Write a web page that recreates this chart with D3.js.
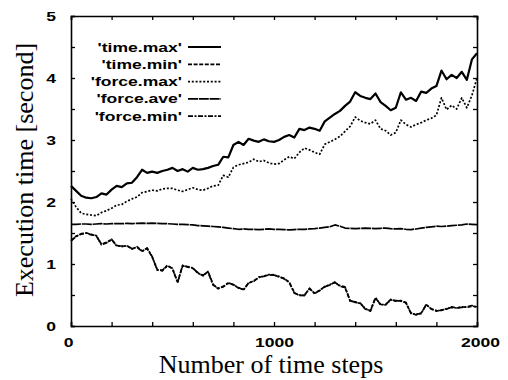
<!DOCTYPE html>
<html>
<head>
<meta charset="utf-8">
<script src="https://cdn.jsdelivr.net/npm/d3@7"></script>
<style>
  body { margin: 0; background: #fff; }
  .tl { font-family: "Liberation Sans", Arial, sans-serif; font-weight: bold; font-size: 13px; }
  .title { font-family: "Liberation Serif", "Times New Roman", serif; font-size: 26px; }
</style>
</head>
<body>
<div id="chart"></div>
<script>
// time steps, every 25
var steps = d3.range(0, 2001, 25);

var timeMax = [2.26,2.18,2.10,2.07,2.06,2.08,2.14,2.12,2.20,2.26,2.24,2.30,2.31,2.40,2.52,2.47,2.49,2.47,2.50,2.52,
  2.55,2.50,2.53,2.49,2.55,2.52,2.53,2.55,2.58,2.60,2.73,2.72,2.92,2.97,2.92,3.02,2.99,2.97,3.01,2.98,
  2.97,3.00,3.05,3.08,3.04,3.18,3.16,3.20,3.18,3.15,3.30,3.36,3.42,3.47,3.55,3.62,3.77,3.71,3.68,3.66,
  3.75,3.61,3.55,3.48,3.52,3.77,3.65,3.68,3.63,3.78,3.76,3.83,3.87,4.12,3.98,4.05,4.00,4.10,3.97,4.30,4.40];

var timeMin = [1.37,1.45,1.48,1.50,1.48,1.45,1.32,1.35,1.39,1.30,1.28,1.30,1.24,1.28,1.21,1.25,1.11,0.91,0.89,0.98,
  0.92,0.71,0.97,0.96,0.93,0.86,0.81,0.88,0.67,0.60,0.64,0.69,0.67,0.61,0.59,0.69,0.73,0.78,0.81,0.82,
  0.83,0.79,0.77,0.70,0.54,0.49,0.50,0.60,0.53,0.57,0.64,0.66,0.71,0.64,0.62,0.41,0.38,0.37,0.27,0.25,
  0.45,0.35,0.34,0.43,0.40,0.41,0.37,0.21,0.18,0.21,0.34,0.28,0.24,0.26,0.27,0.31,0.29,0.31,0.30,0.32,0.31];

var forceMax = [2.05,1.92,1.82,1.80,1.79,1.78,1.83,1.86,1.90,1.95,1.96,2.01,2.05,2.08,2.15,2.17,2.19,2.18,2.21,2.22,
  2.22,2.19,2.17,2.20,2.23,2.20,2.19,2.22,2.26,2.27,2.43,2.40,2.56,2.60,2.62,2.64,2.69,2.65,2.67,2.63,
  2.61,2.62,2.68,2.73,2.70,2.80,2.87,2.84,2.80,2.77,2.93,2.97,3.01,3.06,3.14,3.22,3.37,3.31,3.28,3.26,
  3.32,3.18,3.15,3.08,3.12,3.32,3.25,3.21,3.25,3.28,3.32,3.35,3.40,3.68,3.49,3.56,3.50,3.68,3.52,3.72,4.00];

var forceAve = [1.64,1.64,1.645,1.645,1.64,1.645,1.65,1.645,1.65,
  1.65,1.65,1.655,1.65,1.655,1.66,1.655,1.66,
  1.655,1.65,1.65,1.645,1.64,1.64,1.635,1.63,
  1.62,1.615,1.61,1.605,1.60,1.59,1.58,1.57,
  1.56,1.565,1.56,1.56,1.555,1.56,1.565,1.56,
  1.56,1.555,1.55,1.555,1.56,1.56,1.565,1.57,
  1.58,1.59,1.60,1.63,1.61,1.58,1.575,1.57,
  1.575,1.58,1.575,1.57,1.575,1.58,1.57,1.565,
  1.57,1.56,1.555,1.565,1.58,1.59,1.60,1.61,
  1.605,1.61,1.62,1.625,1.63,1.645,1.64,1.635];

var forceMin = [1.38,1.44,1.49,1.50,1.47,1.46,1.31,1.34,1.40,1.29,1.29,1.29,1.25,1.27,1.20,1.26,1.12,0.90,0.90,0.97,
  0.93,0.70,0.98,0.95,0.94,0.85,0.82,0.87,0.66,0.61,0.63,0.70,0.66,0.62,0.58,0.70,0.72,0.79,0.80,0.83,
  0.82,0.80,0.76,0.71,0.53,0.50,0.49,0.61,0.52,0.58,0.63,0.67,0.70,0.65,0.63,0.40,0.39,0.36,0.28,0.24,
  0.46,0.34,0.35,0.42,0.41,0.40,0.38,0.20,0.19,0.20,0.35,0.27,0.25,0.25,0.28,0.30,0.29,0.30,0.31,0.33,0.30];

var seriesNames = ["'time.max'", "'time.min'", "'force.max'", "'force.ave'", "'force.min'"];
var seriesData = [timeMax, timeMin, forceMax, forceAve, forceMin];
var dashes = [null, "4,1.6", "2,1.8", "10,0.8", "5,1.5,2,1.5"];
var widths = [2.2, 1.7, 1.7, 1.7, 1.7];

var yTicks = d3.range(0, 5.01, 0.5);
var xTicks = d3.range(0, 2001, 200);

// set the dimensions and margins of the graph
var margin = {top: 16, right: 31, bottom: 54, left: 71},
    width = 508 - margin.left - margin.right,
    height = 380 - margin.top - margin.bottom;

var svg = d3.select("#chart")
  .append("svg")
    .attr("width", 508)
    .attr("height", 380)
  .append("g")
    .attr("transform", "translate(" + margin.left + "," + margin.top + ")");

var x = d3.scaleLinear().domain([0, 2000]).range([0, width]);
var y = d3.scaleLinear().domain([0, 5]).range([height, 0]);

var sx = 1.35; // the scanned labels are wide

function widen(sel) {
  sel.selectAll("text")
    .attr("class", "tl")
    .attr("fill", "#000")
    .attr("x", function() { return +d3.select(this).attr("x") / sx; })
    .attr("transform", "scale(" + sx + ",1)");
}

// axes with inward ticks
var yAxis = svg.append("g")
  .call(d3.axisLeft(y).tickValues(yTicks).tickSize(-4).tickPadding(15)
    .tickFormat(function(d) { return Number.isInteger(d) ? d : ""; }));
widen(yAxis);

var xAxis = svg.append("g")
  .attr("transform", "translate(0," + height + ")")
  .call(d3.axisBottom(x).tickValues(xTicks).tickSize(-4).tickPadding(12)
    .tickFormat(function(d) { return d % 1000 === 0 ? d : ""; }));
widen(xAxis);
xAxis.selectAll(".tick").filter(function(d) { return d === 0; }).select("text")
  .attr("x", -3 / sx);
xAxis.selectAll(".tick").filter(function(d) { return d === 2000; }).select("text")
  .attr("x", 3 / sx);

svg.append("g")
  .attr("transform", "translate(" + width + ",0)")
  .call(d3.axisRight(y).tickValues(yTicks).tickSize(-4).tickFormat(""));
svg.append("g")
  .call(d3.axisTop(x).tickValues(xTicks).tickSize(-4).tickFormat(""));

svg.selectAll(".domain").attr("stroke", "#000").attr("stroke-width", 1.6);
svg.selectAll(".tick line").attr("stroke", "#000").attr("stroke-width", 1.3);

// lines
var line = d3.line()
  .x(function(d, i) { return x(steps[i]); })
  .y(function(d) { return y(d); });

svg.selectAll(".series")
  .data(seriesData)
  .enter()
  .append("path")
    .attr("class", "series")
    .attr("fill", "none")
    .attr("stroke", "#000")
    .attr("stroke-width", function(d, i) { return widths[i]; })
    .attr("stroke-dasharray", function(d, i) { return dashes[i]; })
    .attr("stroke-linejoin", "round")
    .attr("d", line);

// legend
var legend = svg.append("g");
seriesNames.forEach(function(name, i) {
  var cy = 31 + i * 17.3;
  legend.append("text")
    .attr("class", "tl")
    .attr("font-size", "12.5px")
    .attr("text-anchor", "end")
    .attr("transform", "translate(111," + (cy + 4.5) + ") scale(" + sx + ",1)")
    .text(name);
  legend.append("line")
    .attr("x1", 117).attr("x2", 150)
    .attr("y1", cy).attr("y2", cy)
    .attr("stroke", "#000")
    .attr("stroke-width", widths[i])
    .attr("stroke-dasharray", dashes[i]);
});

// axis titles
svg.append("text")
  .attr("class", "title")
  .attr("text-anchor", "middle")
  .attr("x", width / 2 - 3)
  .attr("y", height + 47)
  .text("Number of time steps");

svg.append("text")
  .attr("class", "title")
  .attr("text-anchor", "middle")
  .attr("transform", "translate(-38," + (height / 2 - 1) + ") rotate(-90)")
  .attr("font-size", "27.5px")
  .text("Execution time [second]");
</script>
</body>
</html>
